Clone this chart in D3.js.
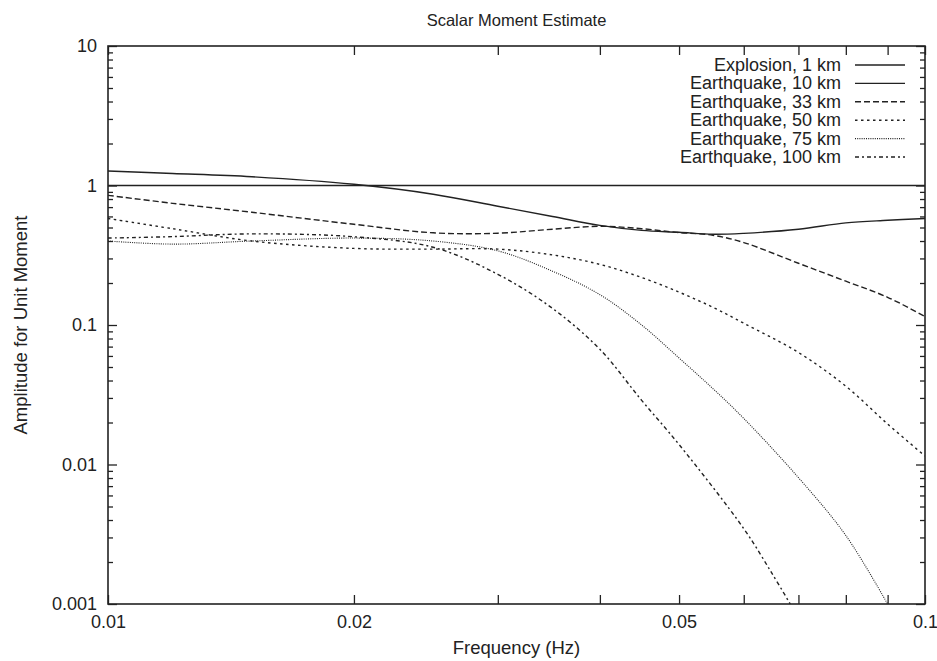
<!DOCTYPE html>
<html>
<head>
<meta charset="utf-8">
<script src="https://cdn.jsdelivr.net/npm/d3@7"></script>
<style>
  html, body { margin: 0; padding: 0; background: #fff; }
  #chart { width: 937px; height: 661px; }
  text { font-family: "Liberation Sans", Arial, Helvetica, sans-serif; fill: #222; }
</style>
</head>
<body>
<div id="chart"></div>
<script>
const freqs = [0.01, 0.012, 0.015, 0.02, 0.025, 0.03, 0.035, 0.04, 0.045, 0.05, 0.055, 0.06, 0.07, 0.08, 0.09, 0.1];

const explosion1  = [1, 1, 1, 1, 1, 1, 1, 1, 1, 1, 1, 1, 1, 1, 1, 1];
const quake10     = [1.27, 1.22, 1.156, 1.02, 0.866, 0.71, 0.60, 0.518, 0.477, 0.462, 0.447, 0.454, 0.486, 0.54, 0.563, 0.58];
const quake33     = [0.85, 0.745, 0.643, 0.527, 0.458, 0.455, 0.486, 0.51, 0.49, 0.46, 0.44, 0.39, 0.277, 0.206, 0.158, 0.115];
const quake50     = [0.58, 0.49, 0.40, 0.354, 0.35, 0.35, 0.318, 0.272, 0.219, 0.172, 0.134, 0.103, 0.0635, 0.0364, 0.0195, 0.0115];
const quake75     = [0.40, 0.38, 0.40, 0.42, 0.40, 0.34, 0.243, 0.165, 0.10, 0.058, 0.035, 0.0214, 0.00805, 0.0031, 0.001];
const quake100F   = [0.01, 0.012, 0.015, 0.02, 0.025, 0.03, 0.035, 0.04, 0.045, 0.05, 0.06, 0.065, 0.0684];
const quake100    = [0.42, 0.43, 0.45, 0.429, 0.361, 0.231, 0.1315, 0.0669, 0.0288, 0.0139, 0.00347, 0.00165, 0.001];

const labels = ["Explosion, 1 km", "Earthquake, 10 km", "Earthquake, 33 km", "Earthquake, 50 km", "Earthquake, 75 km", "Earthquake, 100 km"];
const xTicks = [0.01, 0.02, 0.05, 0.1];
const xMinor = [0.03, 0.04, 0.06, 0.07, 0.08, 0.09];
const yTicks = [0.001, 0.01, 0.1, 1, 10];

const series = [
  { label: labels[0], x: freqs, y: explosion1, dash: null, w: 1.6 },
  { label: labels[1], x: freqs, y: quake10, dash: null, w: 1.4 },
  { label: labels[2], x: freqs, y: quake33, dash: "6,3", w: 1.4 },
  { label: labels[3], x: freqs, y: quake50, dash: "2.5,3.5", w: 1.4 },
  { label: labels[4], x: freqs.slice(0, quake75.length), y: quake75, dash: "1,1.2", w: 1.1 },
  { label: labels[5], x: quake100F, y: quake100, dash: "4,3,2,3", w: 1.4 }
];

const W = 937, H = 661;
const M = { top: 46, right: 12, bottom: 57, left: 108 };
const iW = W - M.left - M.right;
const iH = H - M.top - M.bottom;
const ink = "#222";

const svg = d3.select("#chart").append("svg")
  .attr("width", W).attr("height", H)
  .attr("viewBox", `0 0 ${W} ${H}`);

const xScale = d3.scaleLog().domain([0.01, 0.1]).range([0, iW]);
const yScale = d3.scaleLog().domain([0.001, 10]).range([iH, 0]);

const g = svg.append("g").attr("transform", `translate(${M.left},${M.top})`);

svg.append("defs").append("clipPath").attr("id", "clip")
  .append("rect").attr("width", iW).attr("height", iH);

// Minor y ticks (2..9 in each decade)
const yMinor = [];
for (let d = 0.001; d < 10; d *= 10) {
  for (let k = 2; k <= 9; k++) yMinor.push(+(d * k).toPrecision(3));
}

// Axes: ticks on all four sides, gnuplot style
const fmt = d => String(+d.toPrecision(3));
const styleAxis = (ax, withText) => {
  ax.select(".domain").remove();
  ax.selectAll(".tick line").attr("stroke", ink).attr("stroke-width", 1.3);
  if (withText) ax.selectAll("text").style("font-size", "18px").style("fill", ink);
  else ax.selectAll("text").remove();
};

g.append("g").attr("transform", `translate(0,${iH})`)
  .call(d3.axisBottom(xScale).tickValues(xTicks).tickFormat(fmt).tickSizeInner(-9).tickPadding(11))
  .call(ax => styleAxis(ax, true));
g.append("g").attr("transform", `translate(0,${iH})`)
  .call(d3.axisBottom(xScale).tickValues(xMinor).tickSizeInner(-9).tickFormat(""))
  .call(ax => styleAxis(ax, false));
g.append("g")
  .call(d3.axisTop(xScale).tickValues(xTicks.concat(xMinor)).tickSizeInner(-9).tickFormat(""))
  .call(ax => styleAxis(ax, false));

g.append("g")
  .call(d3.axisLeft(yScale).tickValues(yTicks).tickFormat(fmt).tickSizeInner(-9).tickPadding(11))
  .call(ax => styleAxis(ax, true));
g.append("g")
  .call(d3.axisLeft(yScale).tickValues(yMinor).tickSizeInner(-5).tickFormat(""))
  .call(ax => styleAxis(ax, false));
g.append("g").attr("transform", `translate(${iW},0)`)
  .call(d3.axisRight(yScale).tickValues(yTicks).tickSizeInner(-9).tickFormat(""))
  .call(ax => styleAxis(ax, false));
g.append("g").attr("transform", `translate(${iW},0)`)
  .call(d3.axisRight(yScale).tickValues(yMinor).tickSizeInner(-5).tickFormat(""))
  .call(ax => styleAxis(ax, false));

// Frame
g.append("rect").attr("width", iW).attr("height", iH)
  .attr("fill", "none").attr("stroke", ink).attr("stroke-width", 1.6);

// Curves
const line = d3.line()
  .x(d => xScale(d[0]))
  .y(d => yScale(d[1]))
  .curve(d3.curveCatmullRom.alpha(0.5));

const curves = g.append("g").attr("clip-path", "url(#clip)");
series.forEach(s => {
  curves.append("path")
    .datum(s.x.map((f, i) => [f, s.y[i]]))
    .attr("fill", "none")
    .attr("stroke", ink)
    .attr("stroke-width", s.w)
    .attr("stroke-dasharray", s.dash)
    .attr("d", line);
});

// Legend
const leg = g.append("g");
series.forEach((s, i) => {
  const y = 19 + i * 18.4;
  leg.append("text")
    .attr("x", 733).attr("y", y + 6)
    .attr("text-anchor", "end")
    .style("font-size", "18px")
    .text(s.label);
  leg.append("line")
    .attr("x1", 747).attr("x2", 797)
    .attr("y1", y).attr("y2", y)
    .attr("stroke", ink)
    .attr("stroke-width", s.w)
    .attr("stroke-dasharray", s.dash);
});

// Titles
svg.append("text")
  .attr("x", M.left + iW / 2).attr("y", 26)
  .attr("text-anchor", "middle")
  .style("font-size", "16.5px")
  .text("Scalar Moment Estimate");

svg.append("text")
  .attr("x", M.left + iW / 2).attr("y", 654)
  .attr("text-anchor", "middle")
  .style("font-size", "18.5px")
  .text("Frequency (Hz)");

svg.append("text")
  .attr("transform", `translate(27,${M.top + iH / 2}) rotate(-90)`)
  .attr("text-anchor", "middle")
  .style("font-size", "18.5px")
  .text("Amplitude for Unit Moment");
</script>
</body>
</html>
